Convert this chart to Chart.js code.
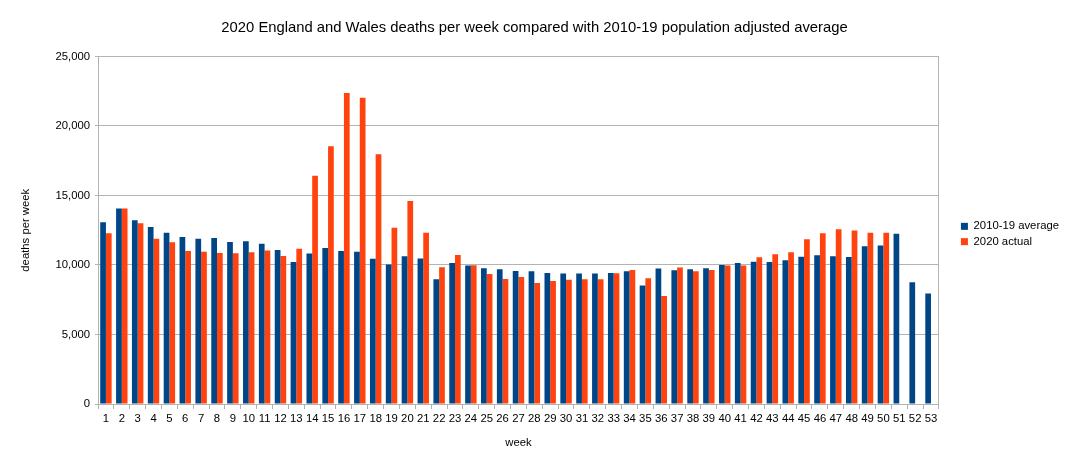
<!DOCTYPE html>
<html>
<head>
<meta charset="utf-8">
<script src="https://cdn.jsdelivr.net/npm/chart.js@4/dist/chart.umd.min.js"></script>
<style>
  html, body { margin:0; padding:0; background:#fff; }
  #wrap { width:1069px; height:468px; position:relative; }
</style>
</head>
<body>
<div id="wrap"><canvas id="chart"></canvas></div>
<script>
// ── Data ──────────────────────────────────────────────────
const weeks = ['1','2','3','4','5','6','7','8','9','10','11','12','13','14','15','16','17','18','19','20',
  '21','22','23','24','25','26','27','28','29','30','31','32','33','34','35','36','37','38','39','40',
  '41','42','43','44','45','46','47','48','49','50','51','52','53'];

const avg2010_19 = [13075,14060,13220,12740,12310,12020,11880,11950,11660,11710,
  11520,11080,10220,10820,11230,11010,10960,10440,10040,10630,
  10460,8970,10150,9960,9760,9690,9570,9550,9430,9380,
  9380,9380,9430,9550,8520,9740,9620,9690,9760,10000,
  10150,10240,10220,10340,10600,10700,10630,10580,11350,11400,
  12240,8760,7940];

const actual2020 = [12280,14060,13000,11880,11640,11010,10960,10870,10840,10920,
  11040,10650,11160,16410,18550,22380,22030,17970,12670,14610,
  12310,9840,10720,9980,9360,9000,9140,8710,8850,8930,
  8970,8970,9400,9640,9050,7770,9820,9550,9640,9960,
  9960,10560,10770,10920,11850,12280,12570,12480,12310,12310,
  null,null,null];

const yTicks = [0,5000,10000,15000,20000,25000];

// ── Chart ─────────────────────────────────────────────────
const gridC = '#b3b3b3';
const txtC = '#000';
const fs = 11.3;
Chart.defaults.font.family = '"Liberation Sans", Arial, sans-serif';
Chart.defaults.color = txtC;

new Chart(document.getElementById('chart'), {
  type: 'bar',
  data: {
    labels: weeks,
    datasets: [
      { label:'2010-19 average', data: avg2010_19, backgroundColor:'#004586', borderWidth:0 },
      { label:'2020 actual', data: actual2020, backgroundColor:'#ff420e', borderWidth:0 }
    ]
  },
  options: {
    responsive: true, maintainAspectRatio: false, animation: false,
    categoryPercentage: 0.72, barPercentage: 1.0,
    layout: { padding: { left: 0, right: 0, top: 0, bottom: 0 } },
    plugins: {
      title: { display:true, text:'2020 England and Wales deaths per week compared with 2010-19 population adjusted average',
        font:{size:14.8, weight:'normal'}, color:txtC, padding:{top:19.5, bottom:19.2} },
      legend: { position:'right', align:'center',
        labels:{ boxWidth:7, boxHeight:7, font:{size:fs}, color:txtC, padding:4 } },
      tooltip: { enabled:false }
    },
    scales: {
      x: {
        afterFit: s => { s.height = 64; },
        grid: { drawOnChartArea:false, color:gridC, tickLength:5, offset:true },
        border: { color:gridC },
        ticks: { color:txtC, font:{size:fs}, maxRotation:0, autoSkip:false, padding:3 },
        title: { display:true, text:'week', font:{size:fs}, color:txtC, padding:{top:0, bottom:18} }
      },
      y: {
        min: 0, max: 25000,
        afterFit: s => { s.width = 98; },
        afterBuildTicks: s => { s.ticks = yTicks.map(v => ({value:v})); },
        grid: { color:gridC, tickLength:3 },
        border: { color:gridC },
        ticks: { color:txtC, font:{size:fs}, padding:5, callback: v => v.toLocaleString('en-US') },
        title: { display:true, text:'deaths per week', font:{size:fs}, color:txtC, padding:{top:18.7, bottom:0} }
      },
      y2: {
        position:'right', min:0, max:25000,
        afterFit: s => { s.width = 18; },
        grid: { display:false, drawTicks:false, tickLength:0 },
        border: { display:true, color:gridC },
        ticks: { display:false }
      }
    }
  }
});
</script>
</body>
</html>
